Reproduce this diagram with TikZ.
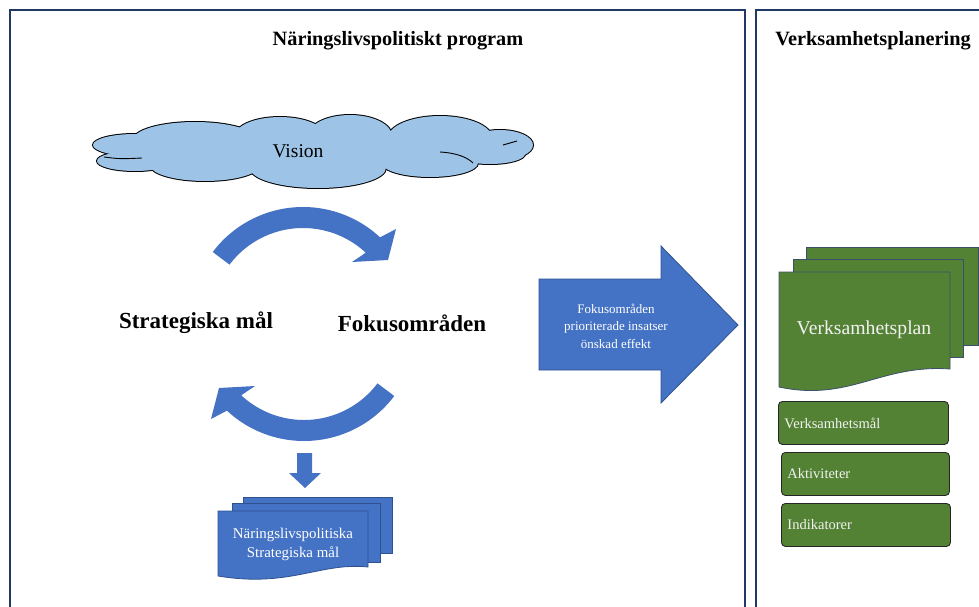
\documentclass[tikz,border=0pt]{standalone}
\usepackage{fontspec}
\setmainfont{Liberation Serif}
\definecolor{navy}{HTML}{1F3864}
\definecolor{ablue}{HTML}{4472C4}
\definecolor{aedge}{HTML}{2F528F}
\definecolor{cblue}{HTML}{9DC3E6}
\definecolor{ggreen}{HTML}{548235}
\definecolor{gedge}{HTML}{3B4F6B}
\newcommand\mycyclearrow{%
  \fill[ablue] ([shift={(303,320)}]-143:113) arc[start angle=-143,end angle=-47,radius=113]
    -- (396,229) -- (388,260) -- (352,262)
    -- ([shift={(303,320)}]-47:92) arc[start angle=-47,end angle=-143,radius=92] -- cycle;}
\tikzset{
  frame/.style={draw=navy, line width=1.1pt},
  titletext/.style={font=\bfseries\fontsize{20.3}{23}\selectfont, inner sep=0},
  bigtext/.style={font=\bfseries\fontsize{23}{26}\selectfont, inner sep=0},
  whitetext/.style={text=white, inner sep=0, align=center},
  blueshape/.style={fill=ablue, draw=aedge, line width=0.8pt},
  greenshape/.style={fill=ggreen, draw=gedge, line width=0.8pt},
  gbox/.style={fill=ggreen, draw=black!85, line width=0.9pt, rounded corners=4pt,
    anchor=north west, minimum width=170pt, minimum height=43pt, text width=158pt,
    align=left, inner xsep=6pt, text=white!95!black, font=\fontsize{14.5}{17}\selectfont},
  cloudline/.style={black, line width=0.9pt},
}
\begin{document}
\begin{tikzpicture}[x=1pt,y=-1pt]
\useasboundingbox (0,0) rectangle (979,607);
% frames
\draw[frame] (10,625) -- (10,10) -- (745,10) -- (745,625);
\draw[frame] (756,625) -- (756,10) -- (990,10);
\node[titletext] (t1) at (398,41) {Näringslivspolitiskt program};
\node[titletext] (t2) at (873,41) {Verksamhetsplanering};
% cloud
\foreach \cx/\cy/\rx/\ry in {135/145/42/11, 135/161/38/10, 195/140/62/18, 280/136/45/19,
   350/136/42/21, 440/138/52/22, 500/145/33/15, 490/154/35/10, 430/163/48/14,
   318/168/68/20, 205/165/55/16}
  \draw[black, line width=2pt] (\cx,\cy) ellipse[x radius=\rx, y radius=\ry];
\foreach \cx/\cy/\rx/\ry in {135/145/42/11, 135/161/38/10, 195/140/62/18, 280/136/45/19,
   350/136/42/21, 440/138/52/22, 500/145/33/15, 490/154/35/10, 430/163/48/14,
   318/168/68/20, 205/165/55/16, 310/150/170/20}
  \fill[cblue] (\cx,\cy) ellipse[x radius=\rx, y radius=\ry];
\draw[cloudline] (104,157) .. controls (120,159) .. (142,158);
\draw[cloudline] (440,152) .. controls (458,153) and (468,158) .. (473,163);
\draw[cloudline] (503,145) -- (517,141);
\node[inner sep=0, font=\fontsize{19.5}{22}\selectfont] (vision) at (298,151) {Vision};
% cycle arrows
\mycyclearrow
\begin{scope}[rotate around={180:(303.5,324)}]
\mycyclearrow
\end{scope}
\node[bigtext] (strat) at (196,323) {Strategiska mål};
\node[bigtext] (fokus) at (412,323) {Fokusområden};
% down arrow
\fill[ablue] (297,453) -- (312,453) -- (312,473) -- (321,473) -- (305,488) -- (289,473) -- (297,473) -- cycle;
% blue document stack
\draw[blueshape] (243,497) rectangle (392,553);
\draw[blueshape] (232,503) rectangle (380,562);
\draw[blueshape] (218,511) -- (368,511) -- (368,567) .. controls (320,562) and (290,588) .. (218,576) -- cycle;
\node[whitetext, font=\fontsize{14.9}{19}\selectfont] (doctext) at (293,544) {Näringslivspolitiska\\Strategiska mål};
% big arrow
\draw[blueshape] (539,279) -- (661,279) -- (661,246) -- (738,325) -- (661,403) -- (661,370) -- (539,370) -- cycle;
\node[whitetext, font=\fontsize{13}{17.5}\selectfont] (arrowtext) at (616,326) {Fokusområden\\prioriterade insatser\\önskad effekt};
% green document stack
\draw[greenshape] (806,247) rectangle (978,345);
\draw[greenshape] (793,259) rectangle (963,357);
\draw[greenshape] (779,272) -- (950,272) -- (950,369) .. controls (880,364) and (850,402) .. (779,387) -- cycle;
\node[whitetext, font=\fontsize{19.7}{22}\selectfont, text=white!95!black] (plan) at (864,330) {Verksamhetsplan};
% green boxes
\node[gbox] (b1) at (778,401) {Verksamhetsmål};
\node[gbox, minimum width=168pt, text width=156pt] (b2) at (781,452) {Aktiviteter};
\node[gbox, minimum width=169pt, text width=157pt] (b3) at (781,503) {Indikatorer};
\end{tikzpicture}
\end{document}
